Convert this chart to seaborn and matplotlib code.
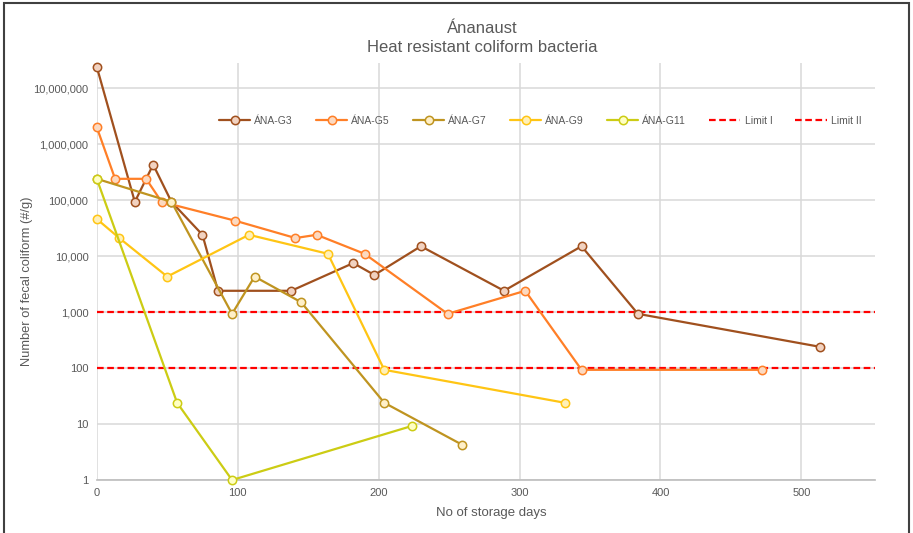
import seaborn as sns
import pandas as pd
import matplotlib.pyplot as plt
from matplotlib.ticker import FuncFormatter, FixedLocator, NullLocator
from matplotlib.patches import Rectangle

# Data (days, fecal coliform #/g)
g3_days = [0, 27, 40, 53, 75, 86, 138, 182, 197, 230, 289, 344, 384, 513]
g3_vals = [24000000, 93000, 430000, 93000, 24000, 2400, 2400, 7500, 4600, 15000, 2400, 15000, 930, 240]

g5_days = [0, 13, 35, 46, 98, 141, 156, 190, 249, 304, 344, 472]
g5_vals = [2000000, 240000, 240000, 93000, 43000, 21000, 24000, 11000, 930, 2400, 93, 93]

g7_days = [0, 53, 96, 112, 145, 204, 259]
g7_vals = [240000, 93000, 930, 4300, 1500, 24, 4.3]

g9_days = [0, 16, 50, 108, 164, 204, 332]
g9_vals = [46000, 21000, 4300, 24000, 11000, 93, 24]

g11_days = [0, 57, 96, 224]
g11_vals = [240000, 24, 1, 9.3]

series_names = ['ÁNA-G3', 'ÁNA-G5', 'ÁNA-G7', 'ÁNA-G9', 'ÁNA-G11']
series_days = [g3_days, g5_days, g7_days, g9_days, g11_days]
series_vals = [g3_vals, g5_vals, g7_vals, g9_vals, g11_vals]
line_colors = ['#A0501E', '#FF7F27', '#BF9420', '#FFC514', '#CCCC14']
fill_colors = ['#F2D2C0', '#FCD9C0', '#FFF0C8', '#FFF0B8', '#FFFFC4']

limit_names = ['Limit I', 'Limit II']
limit_vals = [1000, 100]

y_ticks = [1, 10, 100, 1000, 10000, 100000, 1000000, 10000000]
x_ticks = [0, 100, 200, 300, 400, 500]

sns.set_theme(style="white")
plt.rcParams['font.family'] = ['Liberation Sans', 'DejaVu Sans']

fig = plt.figure(figsize=(9.13, 5.33), dpi=100)
ax = fig.add_axes([0.106, 0.0994, 0.852, 0.7825])

for name, d, v, lc, fc in zip(series_names, series_days, series_vals, line_colors, fill_colors):
    df = pd.DataFrame({'days': d, 'count': v})
    sns.lineplot(data=df, x='days', y='count', ax=ax, color=lc, lw=1.6,
                 marker='o', markersize=6, markerfacecolor=fc,
                 markeredgecolor=lc, markeredgewidth=1.1,
                 label=name, sort=False, estimator=None, zorder=3, clip_on=False)

for name, lv in zip(limit_names, limit_vals):
    ax.axhline(lv, color='#FF0000', lw=1.6, ls=(0, (3, 1.6)), label=name, zorder=2)

ax.set_yscale('log')
ax.set_xlim(0, 552)
ax.set_ylim(1, 10 ** 7.45)
ax.yaxis.set_major_locator(FixedLocator(y_ticks))
ax.yaxis.set_minor_locator(NullLocator())
ax.yaxis.set_major_formatter(FuncFormatter(lambda v, p: f"{v:,.0f}"))
ax.set_xticks(x_ticks)

ax.grid(True, color='#D9D9D9', lw=1.1, zorder=0)
ax.set_axisbelow(True)
for s in ['top', 'right']:
    ax.spines[s].set_visible(False)
ax.spines['left'].set_visible(False)
ax.spines['bottom'].set_color('#BFBFBF')
ax.tick_params(axis='both', length=0, labelsize=8, colors='#595959', pad=6)

ax.set_xlabel('No of storage days', fontsize=9.5, color='#595959', labelpad=6)
ax.xaxis.label.set_x(0.507)
ax.set_ylabel('Number of fecal coliform (#/g)', fontsize=9.3, color='#595959')
ax.yaxis.set_label_coords(-0.082, 0.477)

fig.text(0.528, 0.947, 'Ánanaust', ha='center', va='center', fontsize=12, color='#595959')
fig.text(0.528, 0.911, 'Heat resistant coliform bacteria', ha='center', va='center',
         fontsize=12, color='#595959')

leg = ax.legend(loc='center', bbox_to_anchor=(0.57, 0.861), ncol=7, frameon=False,
                fontsize=7.5, handlelength=3.0, columnspacing=2.2, handletextpad=0.4,
                labelcolor='#595959')

fig.patches.append(Rectangle((0.004, -0.01), 0.992, 1.004, transform=fig.transFigure,
                             fill=False, edgecolor='#404040', lw=1.5))

fig.savefig('out.png', dpi=100)
